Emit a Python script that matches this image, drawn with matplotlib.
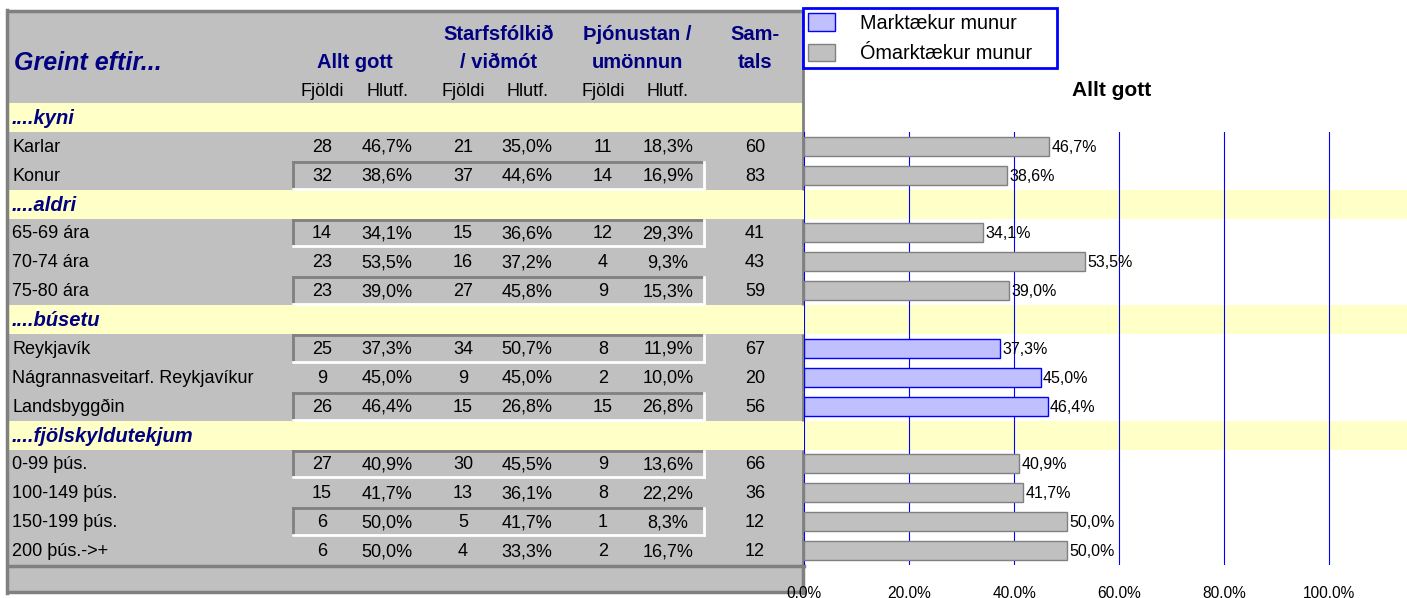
import matplotlib
matplotlib.use("Agg")
import matplotlib.pyplot as plt
import matplotlib.patches as mpatches

plt.rcParams["font.family"] = ["Liberation Sans", "DejaVu Sans"]

# ---- data -------------------------------------------------------------
groups = ["....kyni", "....aldri", "....búsetu", "....fjölskyldutekjum"]
group_sizes = [2, 3, 3, 4]
row_labels = ["Karlar", "Konur",
              "65-69 ára", "70-74 ára", "75-80 ára",
              "Reykjavík", "Nágrannasveitarf. Reykjavíkur", "Landsbyggðin",
              "0-99 þús.", "100-149 þús.", "150-199 þús.", "200 þús.->+"]
allt_n = [28, 32, 14, 23, 23, 25, 9, 26, 27, 15, 6, 6]
allt_p = [46.7, 38.6, 34.1, 53.5, 39.0, 37.3, 45.0, 46.4, 40.9, 41.7, 50.0, 50.0]
starf_n = [21, 37, 15, 16, 27, 34, 9, 15, 30, 13, 5, 4]
starf_p = [35.0, 44.6, 36.6, 37.2, 45.8, 50.7, 45.0, 26.8, 45.5, 36.1, 41.7, 33.3]
thj_n = [11, 14, 12, 4, 9, 8, 2, 15, 9, 8, 1, 2]
thj_p = [18.3, 16.9, 29.3, 9.3, 15.3, 11.9, 10.0, 26.8, 13.6, 22.2, 8.3, 16.7]
samtals = [60, 83, 41, 43, 59, 67, 20, 56, 66, 36, 12, 12]
significant = [False, False, False, False, False, True, True, True,
               False, False, False, False]
xticks = [0, 20, 40, 60, 80, 100]

# ---- styling / layout (pixels) ---------------------------------------
W, H = 1407, 598
NAVY = "#000080"
GREY = "#C0C0C0"
DARK = "#808080"
YELLOW = "#FFFFC8"
BLUE = "#0000FF"
LBLUE = "#C0C0FF"
boxed = [False, True, True, False, True, True, False, True, True, False, True, False]

TAB_L, TAB_R = 8, 804
TOP, HEAD_B = 10, 103
ROW_H = 28.875
ZERO_X, PX_PER_PCT = 804.3, 5.25
col_x = [322, 387, 463, 527, 603, 668, 755]

fig = plt.figure(figsize=(W / 100, H / 100), dpi=100)
bg = fig.add_axes([0, 0, 1, 1], zorder=0)
bg.set_xlim(0, W)
bg.set_ylim(H, 0)
bg.axis("off")

# build the row sequence: band rows + data rows
seq = []
k = 0
for g, n in zip(groups, group_sizes):
    seq.append(("band", g))
    for _ in range(n):
        seq.append(("data", k))
        k += 1
n_rows = len(seq)
table_bottom = HEAD_B + n_rows * ROW_H

# header background
bg.add_patch(mpatches.Rectangle((TAB_L, TOP), TAB_R - TAB_L, HEAD_B - TOP,
                                facecolor=GREY, edgecolor="none"))
bg.text(14, 63, "Greint eftir...", fontsize=18, fontweight="bold", style="italic",
        color=NAVY, ha="left", va="center")
bg.text(355, 63, "Allt gott", fontsize=14.5, fontweight="bold", color=NAVY,
        ha="center", va="center")
for cx, l1, l2 in [(499, "Starfsfólkið", "/ viðmót"), (637, "Þjónustan /", "umönnun"),
                   (755, "Sam-", "tals")]:
    bg.text(cx, 35, l1, fontsize=14.5, fontweight="bold", color=NAVY, ha="center", va="center")
    bg.text(cx, 63, l2, fontsize=14.5, fontweight="bold", color=NAVY, ha="center", va="center")
for i in range(3):
    bg.text(col_x[2 * i], 92, "Fjöldi", fontsize=13, ha="center", va="center")
    bg.text(col_x[2 * i + 1], 92, "Hlutf.", fontsize=13, ha="center", va="center")


def pct(v):
    return f"{v:.1f}".replace(".", ",") + "%"


chart_rows = []
for r, (kind, val) in enumerate(seq):
    y0 = HEAD_B + r * ROW_H
    yc = y0 + ROW_H / 2 + 1
    if kind == "band":
        right = TAB_R if r == 0 else W
        bg.add_patch(mpatches.Rectangle((TAB_L, y0), right - TAB_L, ROW_H,
                                        facecolor=YELLOW, edgecolor="none", zorder=2))
        bg.text(12, yc, val, fontsize=14.5, fontweight="bold", style="italic",
                color=NAVY, ha="left", va="center", zorder=5)
    else:
        i = val
        chart_rows.append(r)
        bg.add_patch(mpatches.Rectangle((TAB_L, y0), TAB_R - TAB_L, ROW_H,
                                        facecolor=GREY, edgecolor="none", zorder=1))
        # right border of table next to data rows
        bg.plot([TAB_R - 1, TAB_R - 1], [y0, y0 + ROW_H], color=DARK, lw=2, zorder=3,
                solid_capstyle="butt")
        if boxed[i]:
            bg.plot([293, 293], [y0 + 1, y0 + ROW_H - 1], color=DARK, lw=2, zorder=3)
            bg.plot([293, 704], [y0 + 1, y0 + 1], color=DARK, lw=2, zorder=3)
            bg.plot([293, 704], [y0 + ROW_H - 1, y0 + ROW_H - 1], color="white", lw=2, zorder=3)
            bg.plot([704, 704], [y0 + 1, y0 + ROW_H - 1], color="white", lw=2, zorder=3)
        bg.text(12, yc, row_labels[i], fontsize=13, ha="left", va="center", zorder=5)
        vals = [str(allt_n[i]), pct(allt_p[i]), str(starf_n[i]), pct(starf_p[i]),
                str(thj_n[i]), pct(thj_p[i]), str(samtals[i])]
        for cx, s in zip(col_x, vals):
            bg.text(cx, yc, s, fontsize=13, ha="center", va="center", zorder=5)

# bottom empty row + outer frame
bg.add_patch(mpatches.Rectangle((TAB_L, table_bottom), TAB_R - TAB_L, 593 - table_bottom,
                                facecolor=GREY, edgecolor="none", zorder=1))
bg.plot([TAB_L, TAB_R], [table_bottom + 1, table_bottom + 1], color=DARK, lw=2.5, zorder=4)
bg.plot([TAB_L, TAB_R], [592, 592], color=DARK, lw=2.5, zorder=4)
bg.plot([TAB_L, TAB_R], [11, 11], color=DARK, lw=2.5, zorder=4)
bg.plot([TAB_L - 1, TAB_L - 1], [10, 593], color=DARK, lw=2.5, zorder=4)
bg.plot([TAB_R - 1, TAB_R - 1], [10, HEAD_B + ROW_H], color=DARK, lw=2, zorder=4)
bg.plot([TAB_R - 1, TAB_R - 1], [table_bottom, 593], color=DARK, lw=2.5, zorder=4)

# ---- bar chart --------------------------------------------------------
chart_top = HEAD_B + ROW_H
ax = fig.add_axes([ZERO_X / W, 1 - table_bottom / H, (W - ZERO_X) / W,
                   (table_bottom - chart_top) / H], zorder=1)
ax.set_facecolor("none")
ax.set_xlim(0, (W - ZERO_X) / PX_PER_PCT)
ax.set_ylim(n_rows - 0.5, 0.5)
for s in ax.spines.values():
    s.set_visible(False)
ax.set_xticks(xticks)
ax.set_xticklabels([f"{t:.1f}%" for t in xticks], fontsize=11.2)
ax.tick_params(axis="x", length=0, pad=15)
ax.set_yticks([])
ax.grid(axis="x", color=BLUE, lw=0.8)
ax.set_axisbelow(True)

face = [LBLUE if s else GREY for s in significant]
edge = [BLUE if s else DARK for s in significant]
ax.barh(chart_rows, allt_p, height=0.66, color=face, edgecolor=edge, linewidth=1, zorder=3)
for r, v in zip(chart_rows, allt_p):
    ax.text(v + 0.4, r + 0.03, pct(v), fontsize=11.5, ha="left", va="center", zorder=4)

ax.text((1112 - ZERO_X) / (W - ZERO_X), 1 + (chart_top - 90) / (table_bottom - chart_top),
        "Allt gott", transform=ax.transAxes, fontsize=15, fontweight="bold",
        ha="center", va="center")

handles = [mpatches.Patch(facecolor=LBLUE, edgecolor=BLUE, label="Marktækur munur"),
           mpatches.Patch(facecolor=GREY, edgecolor=DARK, label="Ómarktækur munur")]
leg = fig.legend(handles=handles, loc="upper left",
                 bbox_to_anchor=(803 / W, 1 - 69 / H, 254 / W, 61 / H), mode="expand",
                 fontsize=14.3, frameon=True, fancybox=False, borderaxespad=0,
                 handlelength=1.35, handleheight=1.0, handletextpad=1.25,
                 borderpad=0.25, labelspacing=0.55, framealpha=1)
leg.get_frame().set_edgecolor(BLUE)
leg.get_frame().set_linewidth(2)

fig.savefig("out.png", dpi=100)
